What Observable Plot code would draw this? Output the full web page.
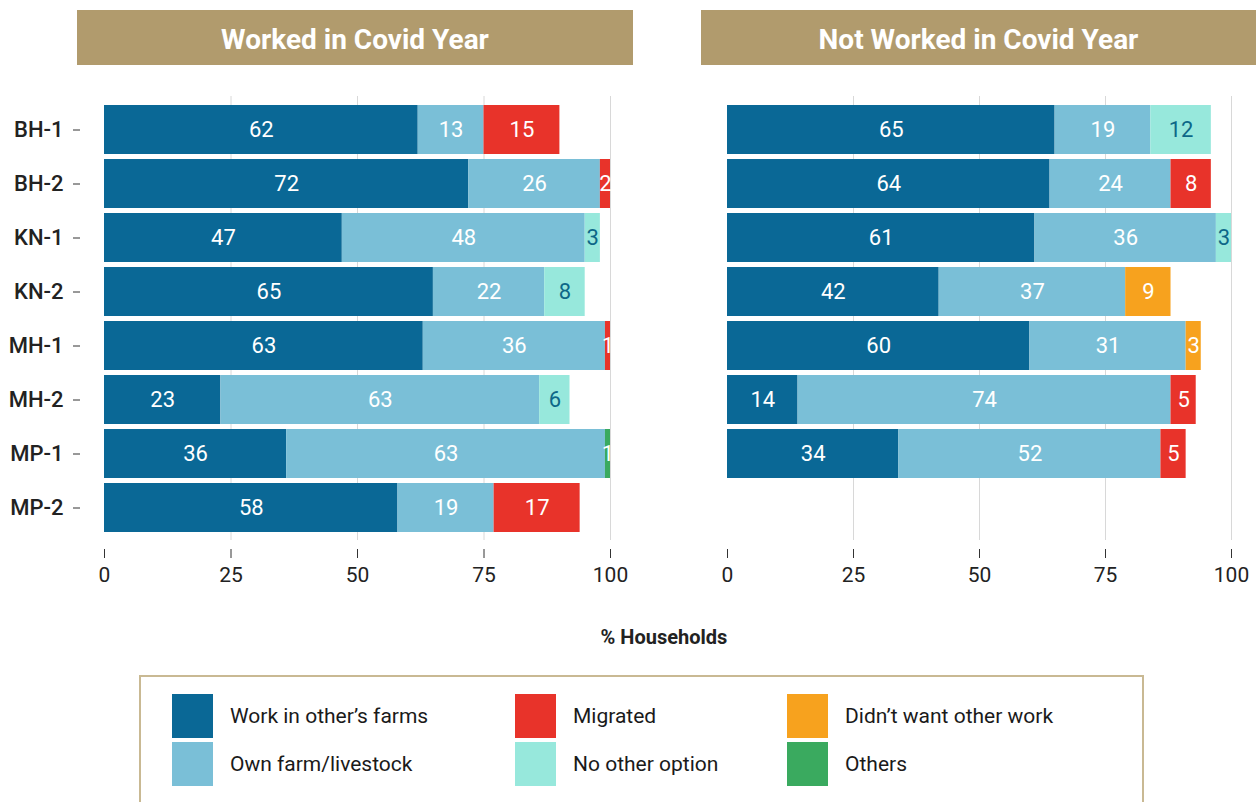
<!DOCTYPE html>
<html>
<head>
<meta charset="utf-8">
<script src="https://cdn.jsdelivr.net/npm/d3@7"></script>
<script src="https://cdn.jsdelivr.net/npm/@observablehq/plot@0.6"></script>
<style>
  html, body { margin: 0; padding: 0; background: #fff; overflow: hidden; }
  body { width: 1256px; height: 802px; position: relative; font-family: Roboto, "Liberation Sans", sans-serif; }
  .hdr { position: absolute; top: 10px; height: 55px; background: #b19b6d; color: #fff; box-sizing: border-box; padding-top: 4px;
         font-size: 28px; font-weight: bold; display: flex; align-items: center; justify-content: center; }
  .panel { position: absolute; top: 0; }
  .xlabel { position: absolute; top: 625px; left: 0; width: 1328px; text-align: center; font-size: 20px; font-weight: bold; color: #222; }
  .legend { position: absolute; left: 139px; top: 675px; width: 1005px; height: 140px; border: 2px solid #c9b993; box-sizing: border-box; }
  .item { position: absolute; display: flex; align-items: center; font-size: 21px; color: #1a1a1a; }
  .sw { width: 41px; height: 44px; margin-right: 17px; }
</style>
</head>
<body>
<div class="hdr" style="left:77px;width:556px;">Worked in Covid Year</div>
<div class="hdr" style="left:701px;width:555px;">Not Worked in Covid Year</div>
<div id="left" class="panel" style="left:0px;"></div>
<div id="right" class="panel" style="left:623px;"></div>
<div class="xlabel">% Households</div>
<div class="legend" id="legend"></div>
<script>
const sites = ["BH-1", "BH-2", "KN-1", "KN-2", "MH-1", "MH-2", "MP-1", "MP-2"];
const categories = ["Work in other\u2019s farms", "Own farm/livestock", "Migrated", "No other option", "Didn\u2019t want other work", "Others"];
const colors = ["#0a6896", "#7abfd7", "#e8332a", "#97e8dc", "#f7a21e", "#3aaa5f"];
const xTicks = [0, 25, 50, 75, 100];

// Worked in Covid Year
const workedWork      = [62, 72, 47, 65, 63, 23, 36, 58];
const workedOwn       = [13, 26, 48, 22, 36, 63, 63, 19];
const workedMigrated  = [15,  2,  0,  0,  1,  0,  0, 17];
const workedNoOption  = [ 0,  0,  3,  8,  0,  6,  0,  0];
const workedDidnt     = [ 0,  0,  0,  0,  0,  0,  0,  0];
const workedOthers    = [ 0,  0,  0,  0,  0,  0,  1,  0];

// Not Worked in Covid Year
const notWork         = [65, 64, 61, 42, 60, 14, 34, 0];
const notOwn          = [19, 24, 36, 37, 31, 74, 52, 0];
const notMigrated     = [ 0,  8,  0,  0,  0,  5,  5, 0];
const notNoOption     = [12,  0,  3,  0,  0,  0,  0, 0];
const notDidnt        = [ 0,  0,  0,  9,  3,  0,  0, 0];
const notOthers       = [ 0,  0,  0,  0,  0,  0,  0, 0];

function table(series) {
  const rows = [];
  sites.forEach((s, i) => {
    series.forEach((arr, k) => {
      if (arr[i] > 0) rows.push({site: s, category: categories[k], value: arr[i]});
    });
  });
  return rows;
}

const worked = table([workedWork, workedOwn, workedMigrated, workedNoOption, workedDidnt, workedOthers]);
const notWorked = table([notWork, notOwn, notMigrated, notNoOption, notDidnt, notOthers]);

const font = `Roboto, "Liberation Sans", sans-serif`;

function panel(data, showY, width, mr) {
  return Plot.plot({
    width: width,
    height: 600,
    marginLeft: 104,
    marginRight: mr,
    marginTop: 96,
    marginBottom: 60,
    style: {fontFamily: font, fontSize: "21px", color: "#222", overflow: "visible"},
    x: {domain: [0, 100], ticks: xTicks},
    y: {domain: sites, padding: 0.1, axis: null},
    color: {domain: categories, range: colors},
    marks: [
      Plot.gridX(xTicks.filter(d => d > 0), {stroke: "#d8d8d8", strokeOpacity: 1}),
      Plot.barX(data, Plot.stackX({x: "value", y: "site", fill: "category", z: "category"})),
      Plot.text(data, Plot.stackX({x: "value", y: "site", z: "category", text: d => String(d.value),
        fill: d => d.category === "No other option" ? "#0d6788" : "#ffffff",
        fontSize: 22})),
      Plot.axisX({ticks: xTicks, tickSize: 9, tickPadding: 9, dy: 9, fontSize: 21, label: null, stroke: "#333"}),
      showY ? Plot.axisY({tickSize: 7, tickPadding: 10, dx: -24, fontSize: 22, fontWeight: 500, label: null, stroke: "#333"}) : null
    ]
  });
}

document.getElementById("left").appendChild(panel(worked, true, 640, 30));
document.getElementById("right").appendChild(panel(notWorked, false, 633, 25));

// legend
const legend = document.getElementById("legend");
const pos = [[31, 17], [31, 65], [374, 17], [374, 65], [646, 17], [646, 65]];
categories.forEach((c, k) => {
  const el = document.createElement("div");
  el.className = "item";
  el.style.left = pos[k][0] + "px";
  el.style.top = pos[k][1] + "px";
  el.innerHTML = `<div class="sw" style="background:${colors[k]}"></div><span>${c}</span>`;
  legend.appendChild(el);
});
</script>
</body>
</html>
